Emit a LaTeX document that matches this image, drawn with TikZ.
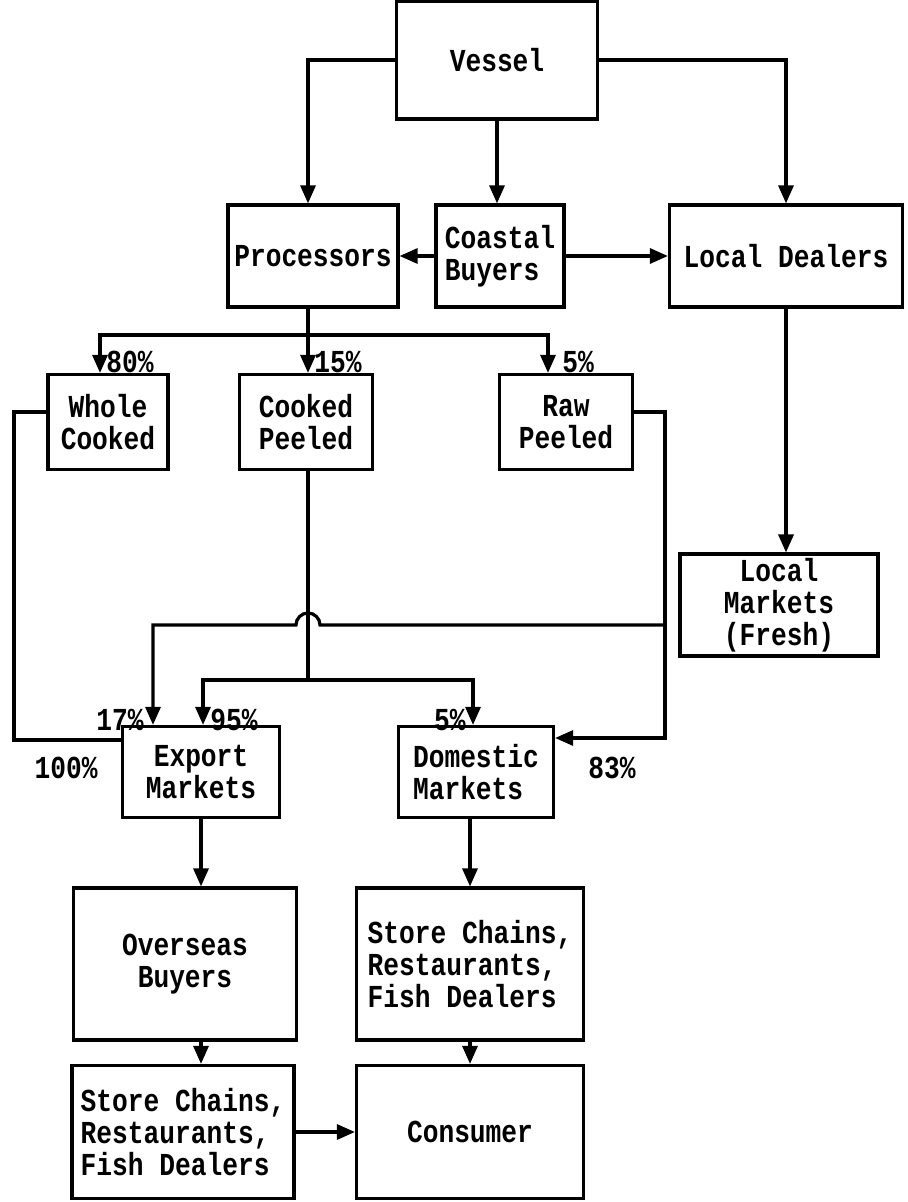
\documentclass[tikz,border=0pt]{standalone}
\usepackage{fontspec}
\setmonofont[FakeStretch=0.82]{Liberation Mono}
\usetikzlibrary{positioning, arrows.meta}

\begin{document}
\begin{tikzpicture}[x=0.5pt, y=0.5pt, >={Triangle[length=9pt,width=7.5pt]},
    flow/.style={draw, line width=1.6pt},
    box/.style={draw, line width=1.6pt, inner sep=2pt, align=center,
                font=\ttfamily\bfseries\fontsize{16}{16}\selectfont},
    pct/.style={inner sep=0pt, font=\ttfamily\bfseries\fontsize{16}{16}\selectfont}]
    \useasboundingbox (0,0) rectangle (908,-1202);
    % boxes
    \node[box, minimum width=100.5pt, minimum height=59pt] (vessel) at (497,-60) {Vessel};
    \node[box, minimum width=85pt, minimum height=51pt] (proc) at (313,-256) {Processors};
    \node[box, minimum width=64pt, minimum height=51pt, align=left] (coastal) at (500,-256) {Coastal\\Buyers};
    \node[box, minimum width=116.5pt, minimum height=51pt] (local) at (786,-256) {Local Dealers};
    \node[box, minimum width=60pt, minimum height=47.5pt] (whole) at (108,-422) {Whole\\Cooked};
    \node[box, minimum width=66.5pt, minimum height=47.5pt] (cpeel) at (306,-422) {Cooked\\Peeled};
    \node[box, minimum width=66.5pt, minimum height=47.5pt] (raw) at (566,-422) {Raw\\Peeled};
    \node[box, minimum width=99pt, minimum height=50pt] (lmark) at (779,-605) {Local\\Markets\\(Fresh)};
    \node[box, minimum width=78.5pt, minimum height=45.5pt] (export) at (201,-772) {Export\\Markets};
    \node[box, minimum width=77.5pt, minimum height=45.5pt, align=left] (domestic) at (476,-772) {Domestic\\Markets};
    \node[box, minimum width=111.5pt, minimum height=76pt] (overseas) at (185,-964) {Overseas\\Buyers};
    \node[box, minimum width=113.5pt, minimum height=76pt, align=left] (storeR) at (470,-964) {Store Chains,\\Restaurants,\\Fish Dealers};
    \node[box, minimum width=111pt, minimum height=66.5pt, align=left] (storeL) at (183,-1132) {Store Chains,\\Restaurants,\\Fish Dealers};
    \node[box, minimum width=113.5pt, minimum height=66.5pt] (consumer) at (470,-1132) {Consumer};
    % shares
    \node[pct, anchor=west] (p80) at (106,-362) {80\%};
    \node[pct, anchor=west] (p15) at (314,-362) {15\%};
    \node[pct, anchor=west] (p5a) at (562,-362) {5\%};
    \node[pct, anchor=east] (p17) at (144,-720) {17\%};
    \node[pct, anchor=west] (p95) at (210,-720) {95\%};
    \node[pct, anchor=east] (p5b) at (466,-720) {5\%};
    \node[pct, anchor=east] (p100) at (98,-768) {100\%};
    \node[pct, anchor=west] (p83) at (588,-768) {83\%};
    % turning points
    \coordinate (fork) at (308,-335);
    \coordinate (fork2) at (308,-680);
    \coordinate (rawdown) at (665,-625);
    \coordinate (lbend) at (153,-625);
    \coordinate (wcorner) at (14,-740);
    % vessel flows
    \draw[flow, ->] (vessel.west) -| ([xshift=-2.5pt]proc.north);
    \draw[flow, ->] (vessel.south) -- (vessel.south |- coastal.north);
    \draw[flow, ->] (vessel.east) -| (local.north);
    \draw[flow, ->] (coastal.west) -- (proc.east);
    \draw[flow, ->] (coastal.east) -- (local.west);
    \draw[flow, ->] (local.south) -- (local.south |- lmark.north);
    % processors split
    \draw[flow] ([xshift=-2.5pt]proc.south) -- (fork);
    \draw[flow, ->] (fork) -| ([xshift=-4pt]whole.north);
    \draw[flow, ->] (fork) -- (fork |- cpeel.north);
    \draw[flow, ->] (fork) -| ([xshift=-9pt]raw.north);
    % to markets
    \draw[flow] (fork |- cpeel.south) -- (fork2);
    \draw[flow, ->] (fork2) -| ([xshift=1pt]export.north);
    \draw[flow, ->] (fork2) -| ([xshift=-1.5pt]domestic.north);
    \draw[flow] ([yshift=5pt]whole.west) -| (wcorner) -- ([yshift=16pt]export.west);
    \draw[flow, ->] ([yshift=5pt]raw.east) -| (rawdown) |- ([yshift=17pt]domestic.east);
    \draw[flow, ->] (rawdown) -- (320,-625) arc[start angle=0, end angle=180, radius=6pt]
        -- (lbend) -- (lbend |- export.north);
    % downstream
    \draw[flow, ->] (export.south) -- (export.south |- overseas.north);
    \draw[flow, ->] (export.south |- overseas.south) -- (export.south |- storeL.north);
    \draw[flow, ->] (domestic.south -| storeR.north) -- (storeR.north);
    \draw[flow, ->] (storeR.south) -- (consumer.north);
    \draw[flow, ->] (storeL.east) -- (consumer.west);
\end{tikzpicture}
\end{document}
